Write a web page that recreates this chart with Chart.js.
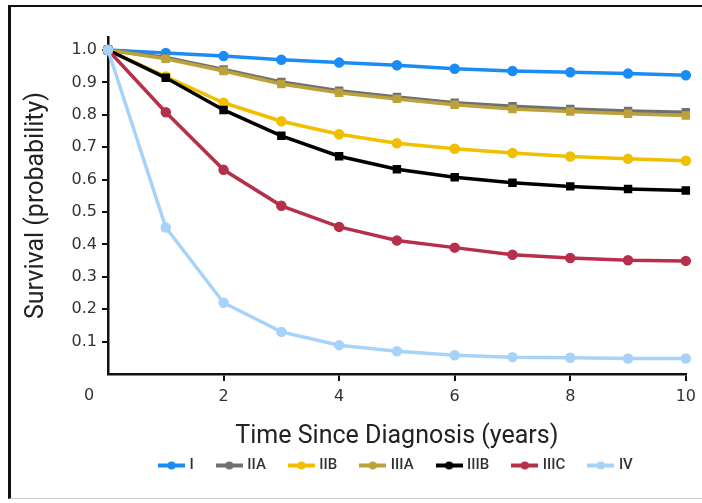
<!DOCTYPE html>
<html>
<head>
<meta charset="utf-8">
<title>Survival by stage</title>
<script src="https://cdn.jsdelivr.net/npm/chart.js@4.4.0/dist/chart.umd.min.js"></script>
<style>
  html, body { margin: 0; padding: 0; background: #fff; }
  #wrap { position: relative; width: 702px; height: 503px; overflow: hidden; }
  #frame {
    position: absolute; left: 8px; top: 5px; width: 694px; height: 494px;
    border-top: 2px solid #111; border-left: 3px solid #111; border-bottom: 1px solid #ccc;
    box-sizing: border-box;
  }
  #survivalChart { position: absolute; left: 0; top: 0; }
</style>
</head>
<body>
<div id="wrap">
  <div id="frame"></div>
  <canvas id="survivalChart" width="702" height="503"></canvas>
</div>
<script>
// years since diagnosis
const years = [0, 1, 2, 3, 4, 5, 6, 7, 8, 9, 10];

// survival probability per stage
const stageI    = [1.0, 0.991, 0.981, 0.970, 0.961, 0.953, 0.942, 0.935, 0.931, 0.927, 0.922];
const stageIIA  = [1.0, 0.977, 0.940, 0.901, 0.874, 0.855, 0.837, 0.826, 0.818, 0.812, 0.808];
const stageIIB  = [1.0, 0.918, 0.837, 0.780, 0.740, 0.712, 0.695, 0.682, 0.671, 0.664, 0.658];
const stageIIIA = [1.0, 0.973, 0.935, 0.895, 0.868, 0.849, 0.831, 0.818, 0.810, 0.803, 0.798];
const stageIIIB = [1.0, 0.914, 0.815, 0.735, 0.672, 0.632, 0.607, 0.590, 0.579, 0.571, 0.566];
const stageIIIC = [1.0, 0.808, 0.630, 0.519, 0.454, 0.412, 0.390, 0.368, 0.358, 0.351, 0.349];
const stageIV   = [1.0, 0.452, 0.220, 0.130, 0.089, 0.070, 0.058, 0.052, 0.050, 0.048, 0.048];

const stageNames  = ["I", "IIA", "IIB", "IIIA", "IIIB", "IIIC", "IV"];
const stageValues = [stageI, stageIIA, stageIIB, stageIIIA, stageIIIB, stageIIIC, stageIV];
const stageColors = ["#1a8cf4", "#707070", "#f0c000", "#bca23a", "#000000", "#b6304b", "#a7d3f8"];
const stagePoints = ["circle", "rect", "circle", "rect", "rect", "circle", "circle"];

const xTickValues = [2, 4, 6, 8, 10];
const yTickValues = [0.1, 0.2, 0.3, 0.4, 0.5, 0.6, 0.7, 0.8, 0.9, 1.0];

const tickFont = { family: "'DejaVu Sans', sans-serif", size: 16 };
const titleFont = { family: "Roboto, sans-serif", size: 25 };

// little line-with-dot swatch for the legend
function legendSwatch(color) {
  const c = document.createElement("canvas");
  c.width = 27;
  c.height = 9;
  const g = c.getContext("2d");
  g.fillStyle = color;
  g.fillRect(0, 2.5, 27, 4);
  g.beginPath();
  g.arc(13.5, 4.5, 4, 0, Math.PI * 2);
  g.fill();
  return c;
}

const datasets = stageNames.map((name, i) => ({
  label: name,
  data: years.map((x, j) => ({ x: x, y: stageValues[i][j] })),
  borderColor: stageColors[i],
  backgroundColor: stageColors[i],
  borderWidth: 3.5,
  pointStyle: stagePoints[i],
  pointRadius: 3.5,
  pointHoverRadius: 3.5,
  tension: 0,
  clip: false,
  order: stageNames.length - i,
}));

// the shared "0" at the origin, set off to the left of the axes
const originLabel = {
  id: "originLabel",
  afterDraw(chart) {
    const xs = chart.scales.x;
    const ctx = chart.ctx;
    ctx.save();
    ctx.font = tickFont.size + "px " + tickFont.family;
    ctx.fillStyle = "#333";
    ctx.textAlign = "center";
    ctx.textBaseline = "middle";
    ctx.fillText("0", xs.getPixelForValue(0) - 19, xs.top + 22);
    ctx.restore();
  },
};

const ctx = document.getElementById("survivalChart").getContext("2d");
const config = {
  type: "line",
  data: { datasets: datasets },
  options: {
    responsive: false,
    animation: false,
    layout: { padding: { left: 20, right: 16, top: 37, bottom: 20 } },
    plugins: {
      tooltip: { enabled: false },
      legend: {
        display: true,
        position: "bottom",
        fullSize: false,
        labels: {
          usePointStyle: true,
          pointStyleWidth: 21,
          boxHeight: 9,
          padding: 25,
          color: "#333",
          font: { family: "Roboto, sans-serif", size: 15, weight: "500" },
          generateLabels(chart) {
            return chart.data.datasets.map((ds, i) => ({
              text: ds.label,
              fillStyle: ds.borderColor,
              strokeStyle: ds.borderColor,
              lineWidth: 0,
              pointStyle: legendSwatch(ds.borderColor),
              hidden: false,
              datasetIndex: i,
              fontColor: "#333",
            }));
          },
        },
      },
    },
    scales: {
      x: {
        type: "linear",
        min: 0,
        max: 10,
        afterBuildTicks(scale) {
          scale.ticks = xTickValues.map((v) => ({ value: v }));
        },
        afterFit(scale) {
          scale.height = 59;
        },
        border: { display: true, color: "#111", width: 2.5 },
        grid: { drawOnChartArea: false, drawTicks: true, tickLength: 7, color: "#111", lineWidth: 2 },
        ticks: {
          color: "#333",
          padding: 6,
          maxRotation: 0,
          font: tickFont,
        },
        title: {
          display: true,
          text: "Time Since Diagnosis (years)",
          color: "#222",
          padding: { top: 8, bottom: -19 },
          font: titleFont,
        },
      },
      y: {
        type: "linear",
        min: 0,
        max: 1.04,
        afterBuildTicks(scale) {
          scale.ticks = yTickValues.map((v) => ({ value: v }));
        },
        afterFit(scale) {
          scale.width = 88;
        },
        border: { display: true, color: "#111", width: 2.5 },
        grid: { drawOnChartArea: false, drawTicks: true, tickLength: 6, color: "#111", lineWidth: 2 },
        ticks: {
          color: "#333",
          padding: 5,
          font: tickFont,
          callback: (v) => Number(v).toFixed(1),
        },
        title: {
          display: true,
          text: "Survival (probability)",
          color: "#222",
          padding: { top: 2, bottom: 4 },
          font: titleFont,
        },
      },
    },
  },
  plugins: [originLabel],
};

const survivalChart = new Chart(ctx, config);
</script>
</body>
</html>
